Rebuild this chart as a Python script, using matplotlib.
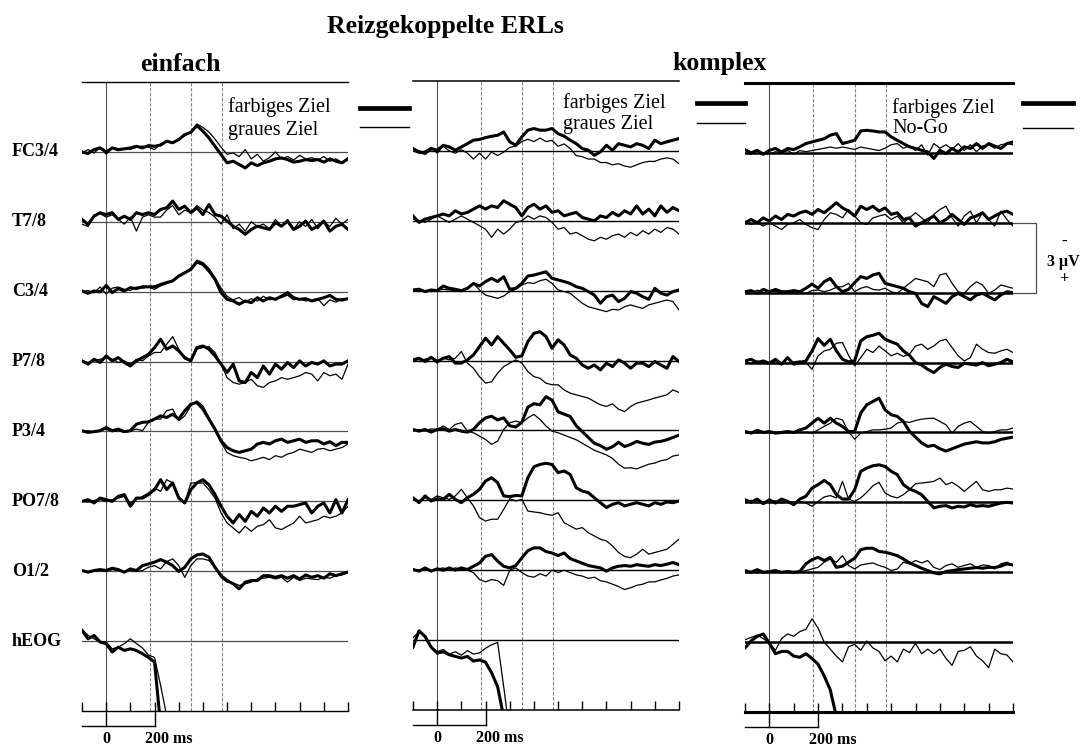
import numpy as np
import matplotlib.pyplot as plt

plt.rcParams['font.family'] = ['Liberation Serif', 'DejaVu Serif']

W, H = 1090, 747

# ------------ DATA (µV, negative = up, one sample every 25 ms) ------------

t_ms = np.arange(-100, 1001, 25)
channels = ['FC3/4', 'T7/8', 'C3/4', 'P7/8', 'P3/4', 'PO7/8', 'O1/2', 'hEOG']
marker_ms = [180, 350, 480]
row_uv = 3.0  # row spacing = calibration bar of 3 µV

# einfach, farbiges Ziel (thick)
einfach_farbig = {
    'FC3/4': [0.0, 0.07, -0.1, -0.17, 0.0, -0.17, -0.1, -0.13, -0.17,
              -0.24, -0.17, -0.27, -0.24, -0.29, -0.46, -0.39, -0.53,
              -0.74, -0.84, -1.13, -0.89, -0.6, -0.24, 0.11, 0.47,
              0.4, 0.54, 0.69, 0.47, 0.59, 0.47, 0.4, 0.3,
              0.26, 0.33, 0.44, 0.4, 0.33, 0.37, 0.33, 0.44, 0.3, 0.4, 0.47, 0.3],
    'T7/8': [-0.1, 0.11, -0.24, -0.39, -0.31, -0.39, -0.1, -0.24, -0.1,
             -0.39, -0.31, -0.39, -0.31, -0.53, -0.6, -0.89, -0.53,
             -0.67, -0.39, -0.6, -0.31, -0.74, -0.31, -0.24, -0.03,
             0.19, 0.33, 0.54, 0.33, 0.19, 0.26, 0.33, 0.04,
             0.19, -0.03, 0.33, 0.19, -0.03, 0.33, 0.19, -0.03, 0.4, 0.19, 0.11, 0.33],
    'C3/4': [-0.03, 0.07, -0.03, 0.01, -0.27, 0.04, -0.13, -0.03, -0.17,
             -0.13, -0.21, -0.21, -0.21, -0.31, -0.39, -0.46, -0.67,
             -0.81, -0.96, -1.27, -1.17, -0.89, -0.53, 0.04, 0.33,
             0.4, 0.54, 0.4, 0.47, 0.26, 0.4, 0.26, 0.33,
             0.19, 0.04, 0.26, 0.33, 0.3, 0.4, 0.33, 0.26, 0.16, 0.33, 0.36, 0.3],
    'P7/8': [-0.03, 0.11, -0.1, 0.04, -0.24, -0.03, -0.17, 0.04, 0.19,
             -0.03, -0.17, -0.31, -0.6, -0.96, -0.53, -0.67, -0.46,
             -0.17, -0.03, -0.6, -0.67, -0.53, -0.24, 0.11, 0.47,
             0.11, 0.83, 0.9, 0.47, 0.69, 0.19, 0.54, 0.11,
             0.33, 0.04, 0.26, -0.03, 0.19, 0.04, 0.11, -0.03, 0.19, 0.11, 0.11, -0.03],
    'P3/4': [-0.03, 0.04, 0.01, -0.03, -0.17, -0.03, -0.1, 0.01, -0.03,
             -0.31, -0.39, -0.41, -0.53, -0.67, -0.6, -0.74, -0.53,
             -0.89, -1.17, -1.24, -0.96, -0.53, -0.1, 0.4, 0.69,
             0.83, 0.9, 0.83, 0.76, 0.54, 0.47, 0.54, 0.4,
             0.33, 0.47, 0.4, 0.33, 0.47, 0.4, 0.4, 0.54, 0.44, 0.61, 0.47, 0.47],
    'PO7/8': [0.0, -0.07, 0.07, -0.14, -0.07, 0.0, -0.21, -0.29, 0.21,
              -0.14, -0.14, -0.29, -0.5, -0.93, -0.5, -0.79, -0.14,
              0.07, -0.5, -0.79, -0.93, -0.71, -0.29, 0.21, 0.64,
              0.93, 0.57, 0.86, 0.43, 0.64, 0.29, 0.5, 0.21,
              0.43, 0.21, 0.21, 0.14, 0.07, 0.5, 0.21, 0.07, 0.5, -0.07, 0.5, -0.07],
    'O1/2': [-0.03, 0.04, -0.03, -0.07, -0.03, -0.13, -0.07, 0.04, -0.1,
             -0.03, -0.24, -0.31, -0.39, -0.5, -0.39, -0.24, 0.01,
             -0.17, -0.53, -0.7, -0.74, -0.6, -0.17, 0.19, 0.4,
             0.54, 0.76, 0.47, 0.4, 0.4, 0.19, 0.19, 0.26,
             0.19, 0.3, 0.19, 0.33, 0.16, 0.26, 0.19, 0.3, 0.11, 0.19, 0.11, 0.04],
    'hEOG': [-0.46, -0.1, -0.24, 0.04, 0.11, 0.47, 0.26, 0.4, 0.33,
             0.4, 0.54, 0.7, 0.9, 3.6],
}

# einfach, graues Ziel (thin)
einfach_grau = {
    'FC3/4': [0.05, -0.1, 0.05, -0.2, 0.1, -0.15, -0.05, -0.15, -0.1,
              -0.2, -0.25, -0.2, -0.1, -0.35, -0.45, -0.4, -0.55,
              -0.7, -0.85, -1.2, -1.05, -0.85, -0.55, -0.2, 0.1,
              0.05, 0.2, -0.1, 0.3, 0.1, 0.4, 0.25, 0.0,
              0.3, 0.2, 0.35, 0.15, 0.3, 0.25, 0.35, 0.2, 0.4, 0.3, 0.45, 0.25],
    'T7/8': [0.1, 0.2, -0.3, -0.35, -0.2, -0.3, -0.1, 0.1, -0.2,
             0.4, -0.2, -0.3, -0.2, -0.2, -0.5, -0.7, -0.3,
             -0.5, -0.4, -0.7, -0.5, -0.4, -0.2, 0.1, -0.3,
             0.3, 0.1, 0.4, 0.0, 0.2, 0.1, 0.3, -0.1,
             0.2, -0.1, 0.3, 0.0, 0.2, -0.1, 0.3, 0.0, 0.2, -0.15, 0.1, -0.1],
    'C3/4': [0.0, -0.05, 0.05, -0.2, 0.1, -0.15, -0.2, -0.1, -0.05,
             -0.2, -0.15, -0.2, -0.1, -0.25, -0.35, -0.5, -0.65,
             -0.8, -1.0, -1.35, -1.25, -1.0, -0.6, -0.15, 0.2,
             0.35, 0.25, 0.45, 0.3, 0.4, 0.2, 0.35, 0.3,
             0.25, 0.15, 0.35, 0.3, 0.4, 0.35, 0.3, 0.6, 0.35, 0.45, 0.3, 0.3],
    'P7/8': [-0.03, 0.04, -0.03, -0.1, -0.17, -0.1, 0.04, -0.03, 0.11,
             -0.1, -0.03, -0.24, -0.39, -0.39, -0.74, -1.07, -0.53,
             -0.1, -0.03, -0.53, -0.6, -0.64, -0.39, 0.11, 0.69,
             0.9, 0.97, 0.9, 0.76, 1.04, 1.11, 0.9, 0.83,
             0.69, 0.76, 0.69, 0.61, 0.47, 0.54, 0.83, 0.47, 0.61, 0.54, 0.76, 0.11],
    'P3/4': [0.01, -0.03, 0.04, -0.06, -0.1, 0.01, -0.03, 0.04, -0.03,
             -0.1, -0.03, -0.39, -0.53, -0.53, -0.89, -0.96, -0.46,
             -0.67, -1.1, -1.31, -1.1, -0.6, -0.03, 0.47, 0.9,
             1.04, 1.11, 1.16, 1.26, 1.19, 1.11, 1.21, 1.04,
             1.11, 0.97, 0.9, 0.76, 0.83, 0.9, 0.76, 0.73, 0.83, 0.76, 0.69, 0.54],
    'PO7/8': [0.0, 0.04, -0.04, -0.07, 0.0, -0.07, -0.14, -0.21, 0.07,
              -0.07, -0.21, -0.36, -0.57, -0.43, -0.93, -0.79, -0.21,
              0.07, -0.79, -0.79, -0.79, -0.5, -0.14, 0.5, 0.93,
              1.14, 1.36, 1.07, 1.29, 1.07, 1.0, 0.79, 1.14,
              1.21, 1.07, 0.93, 0.64, 0.93, 0.86, 0.79, 0.64, 0.71, 0.64, 0.5, 0.21],
    'O1/2': [-0.03, 0.01, 0.0, -0.03, 0.0, -0.07, -0.03, 0.01, -0.03,
             0.01, -0.03, -0.17, -0.24, -0.1, -0.41, -0.53, -0.24,
             0.26, -0.24, -0.53, -0.53, -0.46, -0.17, 0.26, 0.47,
             0.5, 0.61, 0.54, 0.47, 0.33, 0.3, 0.26, 0.33,
             0.26, 0.47, 0.26, 0.4, 0.3, 0.33, 0.36, 0.26, 0.3, 0.19, 0.16, 0.04],
    'hEOG': [-0.5, -0.25, -0.1, 0.04, 0.04, 0.33, 0.26, 0.11, -0.1,
             0.1, 0.3, 0.6, 0.7, 1.9, 3.2],
}

# komplex (middle), farbiges Ziel (thick)
komplex_farbig = {
    'FC3/4': [-0.1, 0.04, 0.11, -0.1, -0.03, -0.24, -0.17, -0.03, -0.17,
              -0.31, -0.46, -0.49, -0.57, -0.63, -0.67, -0.81, -0.39,
              -0.24, -0.6, -0.89, -0.96, -0.89, -0.89, -0.96, -0.74,
              -0.63, -0.46, -0.31, -0.1, -0.03, 0.19, 0.04, -0.24,
              -0.03, -0.31, -0.24, -0.17, -0.31, -0.24, -0.1, -0.46, -0.31, -0.39, -0.46, -0.53],
    'T7/8': [-0.21, 0.07, -0.07, -0.14, -0.21, -0.29, -0.21, -0.43, -0.29,
             -0.36, -0.5, -0.64, -0.5, -0.64, -0.57, -0.86, -0.71,
             -0.57, -0.21, -0.57, -0.71, -0.5, -0.64, -0.36, -0.43,
             -0.21, -0.29, -0.36, -0.14, -0.07, 0.0, -0.21, -0.14,
             -0.36, -0.21, -0.43, -0.29, -0.64, -0.29, -0.5, -0.21, -0.64, -0.36, -0.57, -0.43],
    'C3/4': [-0.03, -0.06, 0.04, -0.03, 0.0, -0.2, -0.1, -0.06, 0.0,
             -0.1, -0.31, -0.2, -0.39, -0.53, -0.39, -0.6, -0.06,
             -0.1, -0.31, -0.63, -0.67, -0.74, -0.81, -0.53, -0.46,
             -0.39, -0.31, -0.17, -0.1, 0.04, 0.19, 0.54, 0.26,
             0.19, 0.47, 0.33, 0.04, 0.11, 0.26, 0.37, -0.1, 0.11, 0.19, 0.04, -0.03],
    'P7/8': [-0.03, -0.1, 0.04, -0.14, 0.04, -0.1, -0.17, 0.11, 0.11,
             -0.03, -0.24, -0.6, -0.96, -0.67, -1.03, -0.74, -0.46,
             -0.14, -0.2, -0.81, -1.17, -1.24, -1.03, -0.53, -0.89,
             -0.67, -0.24, -0.1, 0.19, 0.33, 0.19, 0.4, 0.11,
             0.26, -0.03, 0.11, 0.33, 0.11, 0.11, 0.26, 0.04, 0.19, 0.33, -0.17, 0.04],
    'P3/4': [-0.04, 0.03, -0.04, 0.07, -0.04, -0.07, 0.03, -0.04, 0.03,
             0.07, -0.04, -0.33, -0.54, -0.61, -0.45, -0.54, -0.2,
             -0.15, -0.35, -1.0, -1.15, -1.1, -1.45, -1.3, -0.8,
             -0.7, -0.6, -0.2, 0.05, 0.3, 0.55, 0.65, 0.81,
             0.7, 0.51, 0.69, 0.6, 0.47, 0.55, 0.6, 0.5, 0.47, 0.4, 0.3, 0.2],
    'PO7/8': [-0.11, 0.1, -0.19, 0.03, -0.07, -0.04, -0.26, -0.04, 0.1,
              -0.11, -0.26, -0.47, -0.83, -0.97, -0.76, -0.19, -0.16,
              -0.21, -0.19, -0.97, -1.44, -1.54, -1.59, -1.54, -1.19,
              -1.26, -1.11, -0.54, -0.4, -0.33, -0.11, 0.1, 0.31,
              0.17, 0.1, 0.24, 0.17, 0.1, 0.17, 0.24, 0.1, 0.17, 0.07, 0.1, 0.03],
    'O1/2': [-0.03, 0.04, -0.1, 0.04, -0.06, 0.0, -0.1, 0.0, -0.1,
             -0.03, -0.17, -0.31, -0.6, -0.67, -0.39, -0.17, -0.1,
             -0.2, -0.53, -0.84, -0.96, -0.96, -0.8, -0.74, -0.63,
             -0.74, -0.5, -0.4, -0.3, -0.2, -0.15, -0.1, 0.04,
             -0.1, -0.17, -0.2, -0.17, -0.24, -0.2, -0.17, -0.24, -0.2, -0.26, -0.33, -0.24],
    'hEOG': [0.3, -0.4, -0.15, 0.3, 0.56, 0.5, 0.63, 0.7, 0.77,
             0.7, 0.9, 0.85, 0.95, 1.4, 2.0, 3.3],
}

# komplex (middle), graues Ziel (thin)
komplex_grau = {
    'FC3/4': [0.0, 0.1, 0.0, -0.15, 0.1, -0.2, 0.0, 0.1, -0.05,
              0.1, 0.35, 0.1, 0.35, 0.05, 0.2, 0.05, -0.15,
              -0.2, -0.4, -0.5, -0.4, -0.55, -0.4, -0.45, -0.2,
              -0.3, -0.1, 0.2, 0.25, 0.35, 0.35, 0.5, 0.5,
              0.6, 0.55, 0.65, 0.7, 0.6, 0.5, 0.45, 0.45, 0.35, 0.3, 0.35, 0.55],
    'T7/8': [-0.07, 0.0, 0.07, -0.07, -0.21, -0.07, 0.07, -0.07, -0.21,
             -0.07, 0.07, 0.21, 0.36, 0.71, 0.36, 0.57, 0.36,
             0.07, 0.0, -0.21, -0.07, -0.21, -0.14, 0.07, 0.36,
             0.29, 0.57, 0.5, 0.64, 0.79, 0.86, 0.71, 0.79,
             0.64, 0.57, 0.71, 0.5, 0.64, 0.43, 0.57, 0.36, 0.5, 0.29, 0.36, 0.57],
    'C3/4': [-0.03, 0.04, 0.0, 0.04, -0.03, -0.06, -0.03, 0.0, 0.04,
             -0.1, -0.31, -0.03, 0.19, 0.26, 0.33, 0.23, 0.04,
             -0.06, -0.24, -0.34, -0.31, -0.43, -0.49, -0.31, -0.03,
             0.04, 0.11, 0.33, 0.54, 0.69, 0.76, 0.83, 0.9,
             0.8, 0.83, 0.69, 0.61, 0.69, 0.76, 0.61, 0.54, 0.47, 0.4, 0.47, 0.83],
    'P7/8': [-0.03, 0.04, -0.06, -0.1, 0.11, -0.1, -0.03, -0.1, -0.39,
             0.11, 0.33, 0.69, 0.97, 0.91, 0.54, 0.26, 0.11,
             -0.03, 0.11, 0.47, 0.69, 0.76, 0.97, 1.04, 1.04,
             1.26, 1.4, 1.47, 1.54, 1.61, 1.76, 1.9, 1.97,
             1.86, 2.09, 2.19, 1.97, 1.83, 1.76, 1.69, 1.61, 1.54, 1.47, 1.26, 1.37],
    'P3/4': [0.03, -0.04, 0.03, -0.07, -0.04, -0.19, -0.04, -0.26, -0.33,
             0.03, 0.1, 0.24, 0.39, 0.6, 0.46, -0.04, -0.33,
             -0.4, -0.33, -0.54, -0.69, -0.47, -0.19, 0.03, 0.1,
             0.2, 0.3, 0.4, 0.55, 0.7, 0.85, 0.95, 1.05,
             1.2, 1.45, 1.62, 1.6, 1.65, 1.55, 1.45, 1.4, 1.3, 1.25, 1.1, 1.05],
    'PO7/8': [-0.11, 0.03, -0.11, -0.04, -0.19, -0.11, -0.04, -0.19, -0.47,
              -0.11, 0.24, 0.74, 0.89, 0.81, 0.81, 0.39, -0.07,
              0.03, -0.04, 0.46, 0.5, 0.53, 0.6, 0.64, 0.53,
              0.96, 1.1, 1.24, 1.17, 1.39, 1.53, 1.67, 1.74,
              1.96, 2.24, 2.41, 2.46, 2.31, 2.1, 2.31, 2.24, 2.17, 2.1, 1.89, 1.67],
    'O1/2': [-0.03, 0.0, -0.05, 0.03, -0.05, -0.1, 0.0, -0.1, -0.05,
             0.0, 0.1, 0.4, 0.5, 0.4, 0.45, 0.65, 0.0,
             -0.1, 0.1, 0.25, 0.3, 0.15, 0.25, 0.0, 0.1,
             0.0, 0.1, 0.2, 0.25, 0.35, 0.3, 0.45, 0.5,
             0.6, 0.7, 0.83, 0.75, 0.65, 0.6, 0.5, 0.5, 0.42, 0.35, 0.25, 0.2],
    'hEOG': [-0.1, -0.35, -0.2, 0.3, 0.5, 0.4, 0.6, 0.5, 0.65,
             0.45, 0.6, 0.55, 0.35, 0.2, 0.1, 2.0, 4.0],
}

# komplex (right), farbiges Ziel (thick)
nogo_farbig = {
    'FC3/4': [-0.14, 0.0, -0.11, 0.06, -0.11, -0.19, -0.04, -0.19, -0.14,
              -0.26, -0.4, -0.47, -0.54, -0.61, -0.76, -0.83, -0.4,
              -0.47, -0.54, -0.94, -0.97, -0.94, -0.9, -0.9, -0.69,
              -0.54, -0.4, -0.26, -0.19, -0.11, -0.04, 0.24, -0.11,
              0.03, -0.19, -0.04, -0.26, -0.19, -0.4, -0.19, -0.4, -0.29, -0.19, -0.4, -0.47],
    'T7/8': [0.0, -0.14, 0.0, -0.21, -0.07, -0.29, -0.14, -0.36, -0.29,
             -0.43, -0.5, -0.36, -0.57, -0.43, -0.64, -0.86, -0.64,
             -0.5, -0.29, -0.71, -0.57, -0.71, -0.5, -0.64, -0.36,
             -0.43, -0.14, -0.21, 0.14, 0.0, -0.14, -0.29, 0.0,
             -0.14, -0.36, -0.14, 0.07, -0.21, -0.29, -0.43, -0.14, -0.29, -0.43, -0.5, -0.36],
    'C3/4': [-0.04, -0.09, 0.03, -0.14, -0.04, -0.14, -0.04, -0.04, -0.09,
             -0.04, -0.19, -0.37, -0.19, -0.47, -0.61, -0.26, -0.04,
             -0.14, -0.43, -0.69, -0.61, -0.76, -0.83, -0.4, -0.33,
             -0.26, -0.19, -0.04, 0.03, 0.46, 0.6, 0.17, 0.31,
             0.46, 0.17, 0.03, 0.17, 0.31, 0.1, 0.03, 0.17, 0.31, 0.1, -0.04, 0.0],
    'P7/8': [-0.07, -0.14, 0.0, -0.07, 0.03, -0.14, 0.07, -0.21, 0.07,
             0.0, -0.07, -0.5, -1.03, -0.74, -1.0, -0.5, -0.14,
             -0.03, -0.07, -0.93, -1.11, -1.17, -1.26, -1.0, -0.89,
             -0.79, -0.5, -0.31, 0.0, 0.11, 0.29, 0.43, 0.21,
             0.07, 0.17, 0.21, 0.03, 0.07, 0.11, 0.0, 0.14, 0.07, 0.0, -0.14, -0.03],
    'P3/4': [-0.04, 0.03, -0.09, 0.0, -0.04, 0.03, 0.0, -0.04, 0.0,
             -0.11, -0.19, -0.4, -0.61, -0.4, -0.61, -0.4, -0.26,
             -0.04, -0.04, -0.83, -1.19, -1.33, -1.47, -0.97, -0.76,
             -0.69, -0.47, -0.05, 0.2, 0.45, 0.6, 0.55, 0.7,
             0.8, 0.7, 0.6, 0.5, 0.45, 0.4, 0.45, 0.45, 0.4, 0.3, 0.25, 0.2],
    'PO7/8': [-0.11, 0.0, -0.14, 0.06, -0.11, 0.03, -0.14, -0.04, 0.1,
              -0.14, -0.26, -0.61, -0.76, -0.94, -0.76, -0.33, -0.14,
              -0.14, -0.54, -1.33, -1.47, -1.57, -1.61, -1.54, -1.33,
              -1.19, -0.76, -0.57, -0.47, -0.33, -0.04, 0.24, 0.17,
              0.14, 0.24, 0.17, 0.2, 0.1, 0.17, 0.14, 0.17, 0.1, 0.03, 0.0, 0.03],
    'O1/2': [-0.07, 0.0, -0.11, 0.0, -0.03, -0.07, 0.0, -0.03, 0.0,
             -0.03, -0.36, -0.54, -0.64, -0.5, -0.64, -0.21, -0.26,
             -0.43, -0.6, -0.97, -1.03, -1.03, -0.89, -0.86, -0.79,
             -0.71, -0.57, -0.4, -0.29, -0.17, -0.07, 0.03, 0.07,
             -0.03, -0.07, -0.11, -0.14, -0.17, -0.2, -0.17, -0.21, -0.2, -0.26, -0.36, -0.31],
    'hEOG': [0.25, -0.05, -0.25, -0.35, 0.05, 0.5, 0.4, 0.4, 0.6,
             0.65, 0.5, 0.7, 0.95, 1.45, 2.05, 3.2],
}

# komplex (right), No-Go (thin)
nogo_nogo = {
    'FC3/4': [0.0, 0.05, -0.1, 0.0, 0.05, -0.05, 0.0, -0.1, 0.05,
              -0.1, -0.05, -0.1, -0.15, -0.2, -0.25, -0.2, -0.25,
              -0.2, -0.15, -0.25, -0.2, -0.15, -0.1, -0.2, -0.35,
              -0.4, -0.2, -0.3, -0.1, -0.35, 0.1, -0.4, -0.2,
              -0.35, -0.15, -0.4, -0.1, -0.35, -0.05, -0.3, -0.35, -0.2, -0.35, -0.4, -0.35],
    'T7/8': [-0.07, 0.07, 0.0, 0.14, 0.0, 0.14, 0.29, 0.07, 0.0,
             -0.14, 0.07, 0.21, 0.29, -0.14, -0.43, -0.36, -0.21,
             -0.57, -0.29, 0.0, 0.07, -0.21, -0.29, -0.36, -0.14,
             -0.29, 0.0, -0.21, -0.43, -0.21, 0.0, -0.36, -0.57,
             -0.71, -0.21, 0.14, -0.29, -0.5, 0.0, -0.43, -0.14, 0.14, -0.5, -0.14, 0.14],
    'C3/4': [-0.04, 0.03, -0.11, 0.0, -0.09, -0.04, 0.0, 0.03, -0.04,
             0.0, 0.03, -0.09, -0.11, -0.04, -0.11, -0.23, -0.26,
             -0.4, -0.04, -0.19, -0.26, -0.14, -0.11, -0.19, -0.04,
             0.03, -0.19, -0.4, -0.61, -0.54, -0.47, -0.26, -0.76,
             -0.83, -0.4, -0.04, 0.03, -0.26, -0.47, -0.33, 0.03, -0.11, -0.33, -0.26, -0.19],
    'P7/8': [-0.03, 0.03, -0.07, 0.0, 0.07, -0.07, 0.0, 0.03, -0.03,
             -0.07, 0.0, 0.29, -0.29, -0.5, -0.57, -0.83, -0.86,
             -0.31, 0.14, -0.21, -0.57, -0.43, -0.71, -0.5, -0.29,
             -0.4, -0.26, -0.36, -0.71, -0.79, -0.57, -0.71, -0.93,
             -1.0, -0.64, -0.29, -0.07, -0.21, -0.79, -0.57, -0.43, -0.4, -0.5, -0.57, -0.43],
    'P3/4': [0.0, -0.04, 0.03, -0.03, 0.0, 0.03, -0.04, 0.0, -0.03,
             0.0, 0.0, 0.03, -0.11, -0.26, -0.4, -0.61, -0.54,
             -0.04, 0.29, 0.03, -0.04, -0.11, -0.11, -0.14, -0.19,
             -0.4, -0.47, -0.43, -0.51, -0.57, -0.6, -0.61, -0.47,
             -0.33, 0.03, -0.26, -0.4, -0.47, -0.26, -0.04, 0.03, -0.04, -0.11, -0.11, -0.19],
    'PO7/8': [-0.04, -0.09, 0.03, -0.04, 0.0, -0.07, 0.03, -0.04, 0.0,
              -0.04, 0.03, 0.17, -0.04, -0.23, -0.29, -0.19, -0.9,
              -0.14, -0.04, -0.19, -0.43, -0.71, -0.86, -0.4, -0.26,
              -0.19, -0.33, -0.54, -0.8, -0.83, -0.86, -0.9, -1.04,
              -0.76, -0.86, -0.69, -0.47, -0.69, -0.9, -0.54, -0.47, -0.54, -0.54, -0.61, -0.57],
    'O1/2': [0.0, -0.03, 0.03, -0.03, 0.0, -0.03, 0.0, -0.03, 0.0,
             -0.03, -0.07, -0.14, -0.21, -0.43, -0.57, -0.43, -0.71,
             -0.29, -0.14, -0.31, -0.36, -0.4, -0.29, -0.21, -0.07,
             -0.14, -0.43, -0.36, -0.5, -0.4, -0.5, -0.21, -0.11,
             -0.29, -0.36, -0.21, -0.29, -0.36, -0.21, -0.31, -0.29, -0.14, -0.36, -0.43, -0.29],
    'hEOG': [-0.1, -0.2, -0.3, -0.15, 0.05, 0.35, -0.15, -0.35, -0.25,
             -0.45, -0.55, -1.0, -0.6, 0.0, 0.3, 0.6, 0.85,
             0.2, 0.1, 0.35, -0.05, 0.25, 0.4, 0.8, 0.6,
             0.85, 0.3, 0.45, 0.05, 0.5, 0.3, 0.5, 0.3,
             0.7, 1.0, 0.4, 0.35, 0.2, 0.6, 0.8, 1.1, 0.3, 0.5, 0.55, 0.85],
}


# ------------ FIGURE -----------------------

fig = plt.figure(figsize=(W / 100, H / 100), dpi=100)
PANEL_H = 629  # px, top line to time axis


def fx(x):
    return x / W


def fy(y):
    return 1 - y / H


def draw_panel(left, top, width, thick, thin, frame_lw, base_lw, base_color):
    ax = fig.add_axes([fx(left), fy(top + PANEL_H), width / W, PANEL_H / H])
    n_rows = len(channels) + 1
    y_bottom = row_uv * n_rows
    ax.set_xlim(-100, 1000)
    ax.set_ylim(y_bottom, 0)

    ax.axvline(0, color='0.3', lw=0.8, zorder=0)
    for m in marker_ms:
        ax.axvline(m, color='0.5', lw=0.8, ls=(0, (3, 1.5)), zorder=0)

    for i, ch in enumerate(channels):
        y0 = row_uv * (i + 1)
        ax.axhline(y0, color=base_color, lw=base_lw, zorder=1)
        v = np.array(thin[ch])
        ax.plot(t_ms[:len(v)], y0 + v, color='black', lw=0.9, zorder=3)
        v = np.array(thick[ch])
        ax.plot(t_ms[:len(v)], y0 + v, color='black', lw=2.2, zorder=4)

    ax.spines['left'].set_visible(False)
    ax.spines['right'].set_visible(False)
    ax.spines['top'].set_linewidth(frame_lw)
    ax.spines['bottom'].set_linewidth(frame_lw)
    ax.set_yticks([])
    ax.set_xticks(np.arange(-100, 1001, 100))
    ax.tick_params(axis='x', direction='in', length=6.5, width=1.0,
                   labelbottom=False)

    # 200 ms calibration bar below the time axis
    px_uv = y_bottom / PANEL_H
    yb = y_bottom + 15 * px_uv
    kw = dict(color='black', lw=1.0, clip_on=False)
    ax.plot([-100, 200], [yb, yb], **kw)
    ax.plot([0, 0], [y_bottom, yb], **kw)
    ax.plot([200, 200], [y_bottom, yb], **kw)
    ax.text(0, y_bottom + 20 * px_uv, '0', ha='center', va='top',
            fontsize=11.5, fontweight='bold')
    ax.text(162, y_bottom + 20 * px_uv, '200 ms', ha='left', va='top',
            fontsize=11.5, fontweight='bold')
    return ax


ax1 = draw_panel(82, 82, 266, einfach_farbig, einfach_grau, 1.0, 0.9, '0.3')
ax2 = draw_panel(413, 81, 266, komplex_farbig, komplex_grau, 1.1, 1.0, 'black')
ax3 = draw_panel(745, 83, 268, nogo_farbig, nogo_nogo, 2.2, 1.8, 'black')

# channel labels
for i, ch in enumerate(channels):
    fig.text(fx(12), fy(152 + 70 * i), ch, ha='left', va='center',
             fontsize=13, fontweight='bold')

# headings
fig.text(fx(445), fy(33), 'Reizgekoppelte ERLs', ha='center',
         va='baseline', fontsize=18.5, fontweight='bold')
fig.text(fx(180), fy(71), 'einfach', ha='center', va='baseline',
         fontsize=18.5, fontweight='bold')
fig.text(fx(720), fy(70), 'komplex', ha='center', va='baseline',
         fontsize=18.5, fontweight='bold')

# legends
legends = [
    (228, (112, 135), ('farbiges Ziel', 'graues Ziel'), 360, 409, (108, 127)),
    (563, (108, 129), ('farbiges Ziel', 'graues Ziel'), 697, 745, (103, 123)),
    (892, (113, 133), ('farbiges Ziel', 'No-Go'), 1023, 1073, (103, 128)),
]
for tx, tys, labels, x0, x1, lys in legends:
    for ty, lab in zip(tys, labels):
        fig.text(fx(tx), fy(ty), lab, ha='left', va='baseline', fontsize=14.5)
    fig.add_artist(plt.Line2D([fx(x0), fx(x1)], [fy(lys[0])] * 2,
                              color='black', lw=3.4))
    fig.add_artist(plt.Line2D([fx(x0), fx(x1)], [fy(lys[1])] * 2,
                              color='black', lw=1.0))

# 3 µV calibration bracket (T7/8 to C3/4 baseline)
ax3.plot([1000, 1095, 1095, 1000], [2 * row_uv, 2 * row_uv, 3 * row_uv, 3 * row_uv],
         color='0.3', lw=0.9, clip_on=False)
fig.text(fx(1064), fy(242), '-', ha='center', va='center', fontsize=12,
         fontweight='bold')
fig.text(fx(1063), fy(262), '3 µV', ha='center', va='center', fontsize=11.5,
         fontweight='bold')
fig.text(fx(1064), fy(279), '+', ha='center', va='center', fontsize=12,
         fontweight='bold')

fig.savefig('out.png', dpi=100)
